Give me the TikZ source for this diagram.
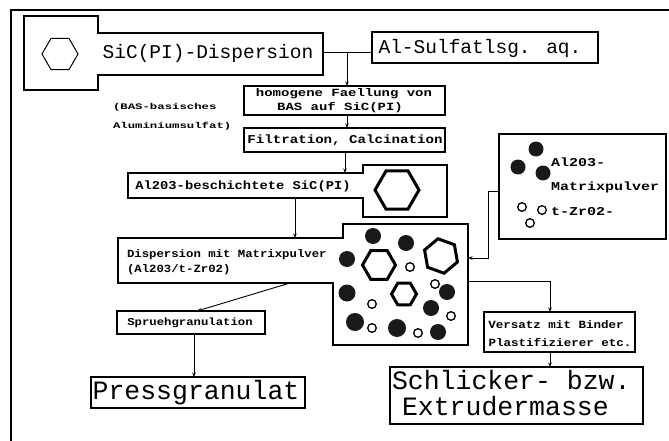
\documentclass[tikz,border=0pt]{standalone}
\usepackage{fontspec}
\usepackage{graphicx}
\newfontfamily\pf{Liberation Mono}
\usetikzlibrary{arrows.meta}
\newcommand{\sx}[2]{\scalebox{#1}[1]{#2}}
\newcommand{\hexa}[5]{\draw[#5] (#1,#2) +(#4:#3) -- +({#4+60}:#3) -- +({#4+120}:#3) -- +({#4+180}:#3) -- +({#4+240}:#3) -- +({#4+300}:#3) -- cycle;}
\begin{document}
\begin{tikzpicture}[x=1pt,y=-1pt,
  every node/.style={inner sep=0pt, outer sep=0pt},
  box/.style={draw, line width=1.2pt, rectangle, inner sep=0pt},
  shp/.style={draw, line width=1.2pt, line join=miter},
  ln/.style={line width=0.9pt},
  arr/.style={ln,-{Stealth[length=4.5pt,width=3.5pt]}},
  big/.style={font=\pf\fontsize{19.5}{22}\selectfont},
  huge/.style={font=\pf\fontsize{26.5}{30}\selectfont},
  sm/.style={font=\pf\bfseries\fontsize{#1}{#1}\selectfont},
  thinhex/.style={line width=1pt},
  thickhex/.style={line width=3pt, line join=miter},
  solid dot/.style={fill=black!90},
  open dot/.style={draw, line width=1.3pt}
]
\useasboundingbox (0,0) rectangle (669,441);
% frame
\draw[line width=1.2pt] (11,441) -- (11,10) -- (669,10);

% SiC dispersion
\draw[shp] (24,16) -- (98,16) -- (98,33) -- (323,33) -- (323,75) -- (98,75) -- (98,90) -- (24,90) -- cycle;
\hexa{60}{54}{18}{0}{thinhex}
\node[big] (sictxt) at (208,53) {SiC(PI)-Dispersion};
\coordinate (sicR) at (323,52);

% Al-Sulfat
\node[box, minimum width=226pt, minimum height=31pt] (alsulf) at (485,47.5) {};
\node[big] (altxt) at (480,48) {Al-Sulfatlsg. aq.};
\draw[ln] (sicR) -- (alsulf.west |- sicR);
\coordinate (j1) at (347,52);

% homogene Faellung
\node[box, minimum width=201pt, minimum height=29pt] (homog) at (344.5,100.5) {};
\node[sm=11] (homt1) at (344,94) {\sx{1.27}{homogene Faellung von}};
\node[sm=11] (homt2) at (340,107.5) {\sx{1.27}{BAS auf SiC(PI)}};
\draw[arr] (j1) -- (homog.north -| j1);

% annotation
\node[sm=8.5, anchor=west] (bas1) at (113,107) {\sx{1.45}{(BAS-basisches}};
\node[sm=8.5, anchor=west] (bas2) at (113,126) {\sx{1.45}{Aluminiumsulfat)}};

% Filtration
\node[box, minimum width=201pt, minimum height=24pt] (filt) at (344.5,140) {};
\node[sm=12] (filtt) at (345,140.5) {\sx{1.18}{Filtration, Calcination}};
\draw[arr] (homog.south -| j1) -- (filt.north -| j1);

% Al2O3-beschichtete SiC
\draw[shp] (128,173) -- (363,173) -- (363,165) -- (447,165) -- (447,217) -- (363,217) -- (363,198) -- (128,198) -- cycle;
\hexa{397}{190}{22}{0}{thickhex}
\node[sm=12] (beschtxt) at (243,186) {\sx{1.15}{Al203-beschichtete SiC(PI)}};
\coordinate (besTop) at (345,173);
\draw[arr] (filt.south -| besTop) -- (besTop);
\coordinate (besBot) at (295,198);
\coordinate (dispTop) at (295,238);
\draw[arr] (besBot) -- (dispTop);

% Dispersion mit Matrixpulver
\draw[shp] (118,238) -- (343,238) -- (343,224) -- (468,224) -- (468,345) -- (333,345) -- (333,283) -- (118,283) -- cycle;
\node[sm=11, anchor=west] (disp1) at (127,255) {\sx{1.12}{Dispersion mit Matrixpulver}};
\node[sm=11, anchor=west] (disp2) at (127,270) {\sx{1.12}{(Al203/t-Zr02)}};
% particles
\foreach \px/\py/\pr in {373/236/8, 406/243/8, 347/259/8, 347/293/8.5, 447/292/8, 431/308/8, 355/322/9, 397/328/9, 438/332/8}
  \fill[solid dot] (\px,\py) circle (\pr);
\foreach \px/\py in {410/267, 435/284, 372/304, 451/316, 372/328, 418/333}
  \draw[open dot] (\px,\py) circle (4.3);
\hexa{379}{265}{16.5}{0}{thickhex}
\hexa{441}{256}{17.5}{20}{thickhex}
\hexa{404}{294}{12.5}{0}{thickhex}

% Matrixpulver box
\node[box, minimum width=167pt, minimum height=105pt] (matrix) at (582.5,186.5) {};
\foreach \px/\py in {536/149, 518/167, 543/173}
  \fill[solid dot] (\px,\py) circle (7.5);
\foreach \px/\py in {522/207, 542/210, 530/223}
  \draw[open dot] (\px,\py) circle (4.3);
\node[sm=12, anchor=west] (m1) at (551,162) {\sx{1.25}{Al203-}};
\node[sm=12, anchor=west] (m2) at (551,187) {\sx{1.25}{Matrixpulver}};
\node[sm=12, anchor=west] (m3) at (551,212) {\sx{1.25}{t-Zr02-}};
\coordinate (mOut) at (499,191);
\coordinate (dispR1) at (468,258);
\draw[arr] (matrix.west |- mOut) -- (488,191) -- (488,258) -- (dispR1);

% Spruehgranulation
\node[box, minimum width=148pt, minimum height=23pt] (spr) at (191,322.5) {};
\node[sm=10.5] (sprt) at (190,323) {\sx{1.17}{Spruehgranulation}};
\coordinate (dispBot) at (290,283);
\draw[arr] (dispBot) -- ([xshift=6pt]spr.north);

% Pressgranulat
\node[box, minimum width=214pt, minimum height=31pt] (press) at (198,392.5) {};
\node[huge] (presst) at (196,393) {Pressgranulat};
\draw[arr] ([xshift=3pt]spr.south) -- ([xshift=3pt]spr.south |- press.north);

% Versatz
\node[box, minimum width=151pt, minimum height=40pt] (vers) at (559.5,332) {};
\node[sm=11] (vers1) at (556,325) {\sx{1.14}{Versatz mit Binder}};
\node[sm=11] (vers2) at (560,342) {\sx{1.14}{Plastifizierer etc.}};
\coordinate (dispR2) at (468,281);
\draw[arr] (dispR2) -| ([xshift=-9.5pt]vers.north);

% Schlicker
\node[box, minimum width=253pt, minimum height=57pt] (schl) at (516.5,395.5) {};
\node[huge, anchor=west] (sch1) at (392,380) {Schlicker- bzw.};
\node[huge, anchor=west] (sch2) at (402,406) {Extrudermasse};
\draw[arr] ([xshift=-9.5pt]vers.south) -- ([xshift=-9.5pt]vers.south |- schl.north);
\end{tikzpicture}
\end{document}
